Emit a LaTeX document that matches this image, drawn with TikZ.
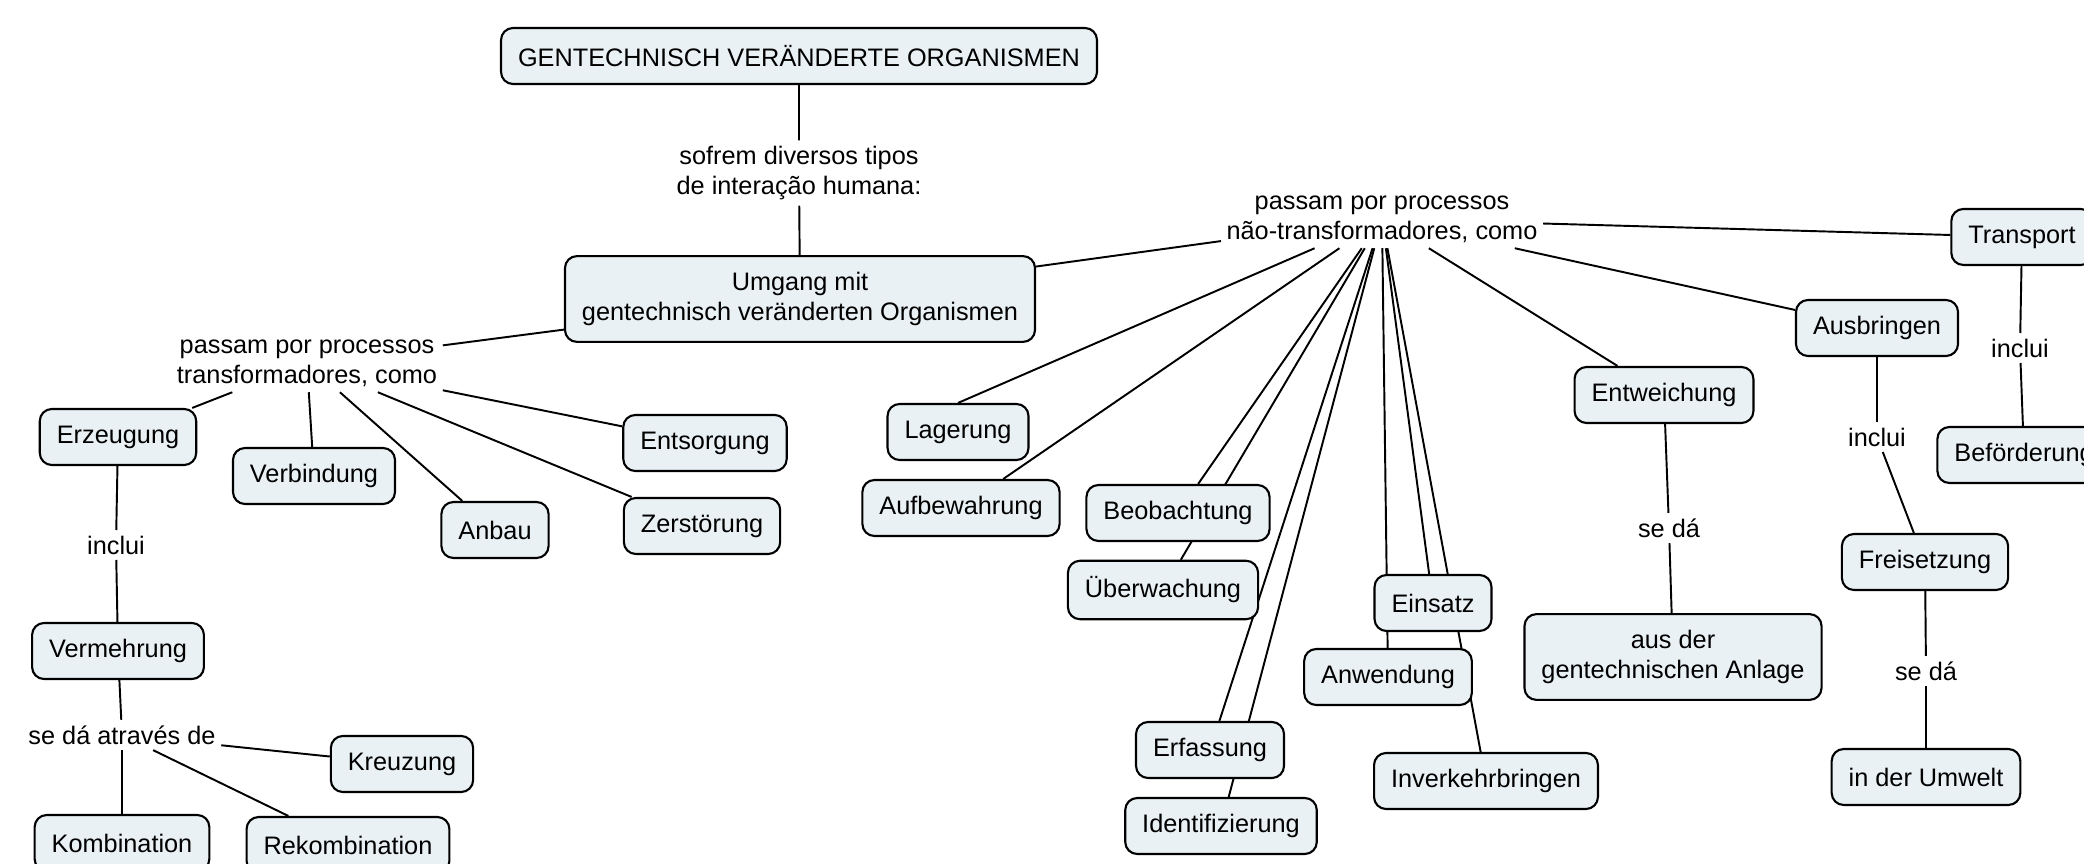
\documentclass[tikz,border=0pt]{standalone}
\usepackage{fontspec}
\setmainfont{Liberation Sans}
\usetikzlibrary{backgrounds}

\definecolor{conceptfill}{RGB}{233,241,244}

\begin{document}
\begin{tikzpicture}[
  concept/.style={draw, fill=conceptfill, rounded corners=0.12cm, line width=0.6pt,
    inner xsep=0.17cm, inner ysep=0.16cm, minimum height=0.56cm, align=center,
    font=\fontsize{7.2}{8.6}\selectfont},
  linkword/.style={inner sep=0.05cm, align=center, font=\fontsize{7.2}{8.6}\selectfont},
  conn/.style={line width=0.55pt}
]
\useasboundingbox (0,0) rectangle (20.84,-8.64);
\clip (0,0) rectangle (20.84,-8.64);

% top
\node[concept] (gvo) at (7.99,-0.56) {GENTECHNISCH VERÄNDERTE ORGANISMEN};
\node[linkword] (sofrem) at (7.99,-1.73) {sofrem diversos tipos\\de interação humana:};
\node[concept] (umgang) at (8.00,-2.99) {Umgang mit\\gentechnisch veränderten Organismen};

% left branch
\node[linkword] (transf) at (3.07,-3.63) {passam por processos\\transformadores, como};
\node[concept] (erzeugung) at (1.18,-4.37) {Erzeugung};
\node[concept] (verbindung) at (3.14,-4.76) {Verbindung};
\node[concept] (anbau) at (4.95,-5.30) {Anbau};
\node[concept] (entsorgung) at (7.05,-4.43) {Entsorgung};
\node[concept] (zerstoerung) at (7.02,-5.26) {Zerstörung};
\node[linkword] (incluiA) at (1.16,-5.45) {inclui};
\node[concept] (vermehrung) at (1.18,-6.51) {Vermehrung};
\node[linkword] (atraves) at (1.22,-7.35) {se dá através de};
\node[concept] (kreuzung) at (4.02,-7.64) {Kreuzung};
\node[concept] (kombination) at (1.22,-8.43) {Kombination};
\node[concept] (rekombination) at (3.48,-8.45) {Rekombination};

% right branch
\node[linkword] (nontransf) at (13.82,-2.19) {passam por processos\\não-transformadores, como};
\node[concept] (lagerung) at (9.58,-4.32) {Lagerung};
\node[concept] (aufbewahrung) at (9.61,-5.08) {Aufbewahrung};
\node[concept] (beobachtung) at (11.78,-5.13) {Beobachtung};
\node[concept] (ueberwachung) at (11.63,-5.90) {Überwachung};
\node[concept] (erfassung) at (12.10,-7.50) {Erfassung};
\node[concept] (identifizierung) at (12.21,-8.26) {Identifizierung};
\node[concept] (einsatz) at (14.33,-6.03) {Einsatz};
\node[concept] (anwendung) at (13.88,-6.77) {Anwendung};
\node[concept] (inverkehr) at (14.86,-7.81) {Inverkehrbringen};
\node[concept] (entweichung) at (16.64,-3.95) {Entweichung};
\node[linkword] (sedaE) at (16.69,-5.28) {se dá};
\node[concept] (anlage) at (16.73,-6.57) {aus der\\gentechnischen Anlage};
\node[concept] (ausbringen) at (18.77,-3.28) {Ausbringen};
\node[linkword] (incluiB) at (18.77,-4.37) {inclui};
\node[concept] (freisetzung) at (19.25,-5.62) {Freisetzung};
\node[linkword] (sedaF) at (19.26,-6.71) {se dá};
\node[concept] (umwelt) at (19.26,-7.77) {in der Umwelt};
\node[concept] (transport) at (20.22,-2.37) {Transport};
\node[linkword] (incluiT) at (20.20,-3.48) {inclui};
\node[concept] (befoerderung) at (20.24,-4.55) {Beförderung};

\begin{pgfonlayer}{background}
\fill[white] (0,0) rectangle (20.84,-8.64);
\draw[conn] (gvo) -- (sofrem) -- (umgang);
\draw[conn] (umgang) -- (transf);
\draw[conn] (umgang) -- (nontransf);
% left
\draw[conn] (transf) -- (erzeugung);
\draw[conn] (transf) -- (verbindung);
\draw[conn] (transf) -- (anbau);
\draw[conn] (transf) -- (zerstoerung);
\draw[conn] (transf) -- (entsorgung);
\draw[conn] (erzeugung) -- (incluiA) -- (vermehrung) -- (atraves);
\draw[conn] (atraves) -- (kombination);
\draw[conn] (atraves) -- (rekombination);
\draw[conn] (atraves) -- (kreuzung);
% right
\draw[conn] (nontransf) -- (lagerung.north);
\foreach \n in {aufbewahrung,beobachtung,ueberwachung,erfassung,identifizierung,einsatz,anwendung,inverkehr,entweichung,ausbringen,transport}
  \draw[conn] (nontransf) -- (\n);
\draw[conn] (entweichung) -- (sedaE) -- (anlage);
\draw[conn] (ausbringen) -- (incluiB) -- (freisetzung) -- (sedaF) -- (umwelt);
\draw[conn] (transport) -- (incluiT) -- (befoerderung);
\end{pgfonlayer}
\end{tikzpicture}
\end{document}
